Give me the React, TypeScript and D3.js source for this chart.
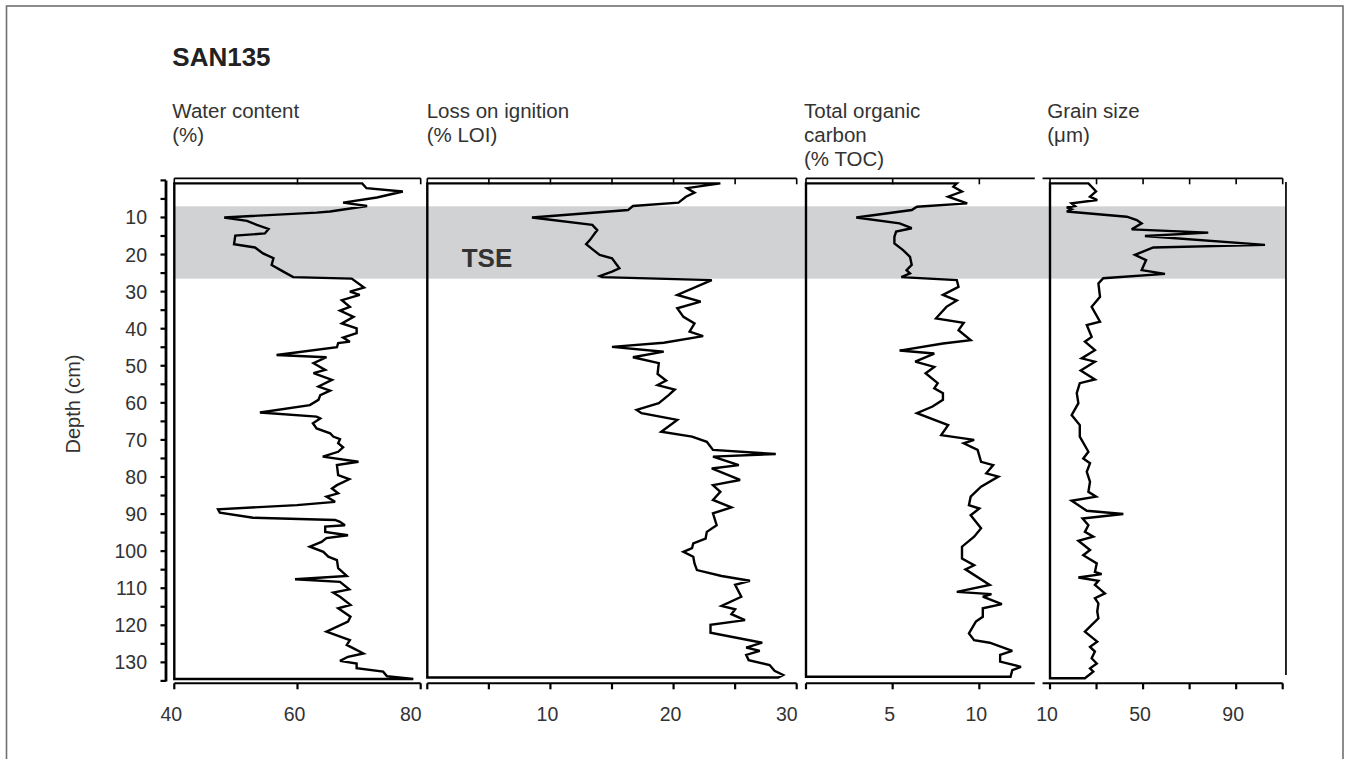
import React from "react";
import * as d3 from "d3";

// ---------- DATA ----------
const waterDepth = [0.8,2.1,3.0,4.6,6.0,6.9,8.4,8.7,10.0,10.9,12.0,13.1,14.3,14.9,17.2,18.1,19.7,21.0,22.8,24.6,26.1,26.5,28.9,30.0,30.9,32.3,34.1,35.1,36.8,38.6,39.9,41.2,42.4,43.5,43.9,45.0,47.1,47.7,49.3,51.1,52.0,53.8,55.6,56.7,57.9,59.2,60.6,62.6,63.7,64.2,65.5,66.9,68.2,69.1,69.8,70.9,72.0,73.2,74.5,75.9,76.8,79.5,80.6,82.2,83.1,84.4,85.3,86.7,87.6,88.7,89.6,91.0,91.6,92.1,93.0,93.4,94.8,95.7,96.5,97.5,98.8,100.2,101.5,102.4,104.6,106.7,107.6,108.3,110.3,111.2,112.3,114.5,115.4,117.7,119.0,121.7,124.0,125.3,127.6,128.5,129.6,130.3,131.6,132.5,133.7,134.5];
const waterValue = [70.5,71.2,77.1,72.9,67.4,71.3,65.3,63.1,48.1,51.8,53.4,55.3,54.7,49.9,49.7,53.1,54.4,56.1,55.8,57.7,59.3,68.8,70.8,68.5,70.1,67.2,68.5,66.9,69.1,67.2,69.6,69.6,67.4,68.5,66.6,66.4,56.6,64.7,62.6,64.5,62.6,65.6,63.4,65.3,63.7,63.4,62.0,53.9,63.1,63.7,62.5,63.1,65.3,65.8,66.9,66.6,67.4,66.6,64.1,69.9,66.4,66.6,68.4,66.4,65.6,66.6,64.7,66.1,59.9,47.1,47.4,52.8,66.1,66.9,67.7,64.5,64.5,68.2,64.7,63.9,62.0,64.2,65.0,66.4,66.6,68.0,59.6,66.9,68.4,65.8,66.9,68.6,66.6,68.6,68.2,64.7,68.5,68.0,70.7,68.2,66.9,69.6,69.6,73.9,74.5,78.8];

const loiDepth = [0.8,2.1,3.3,4.4,6.0,6.9,8.0,10.0,12.0,13.4,16.1,17.2,18.8,20.1,21.0,23.7,24.6,25.8,26.1,26.9,30.9,32.7,34.5,36.8,38.6,40.8,42.0,43.8,44.9,46.2,47.7,49.3,52.2,54.0,55.2,56.4,57.9,60.1,61.9,62.8,64.6,67.8,69.1,70.5,72.7,73.8,74.5,76.8,77.7,80.8,82.2,84.0,86.2,88.2,89.8,93.0,94.8,96.6,97.9,99.2,100.2,101.5,103.3,105.1,106.7,108.0,109.1,112.3,114.8,115.7,117.0,118.6,119.9,122.0,124.7,126.0,126.9,128.0,129.4,130.7,132.3,133.4,134.1];
const loiValue = [23.8,21.1,21.7,21.0,20.4,16.7,16.3,8.5,13.4,13.8,13.2,12.9,13.5,14.0,15.0,15.6,15.0,14.0,14.2,23.1,20.3,22.2,20.3,20.8,21.7,21.3,22.4,19.2,15.0,19.2,16.7,18.8,18.7,19.4,18.7,20.1,19.6,18.8,17.0,17.4,20.3,19.0,21.5,22.7,23.2,28.3,23.2,25.3,23.1,25.4,23.2,23.8,23.2,24.7,23.2,23.5,22.7,22.6,21.6,21.5,20.8,21.6,21.7,21.9,23.9,26.2,25.0,25.5,23.9,25.0,24.7,25.8,23.0,23.0,27.2,25.9,27.0,25.9,26.1,27.8,28.2,28.9,28.5];

const tocDepth = [0.8,1.7,3.0,4.4,6.2,7.1,8.0,10.0,11.6,12.9,13.8,15.2,17.0,18.8,20.6,22.8,24.2,25.1,26.1,26.9,28.7,30.9,32.4,34.1,37.2,38.4,40.4,43.1,44.0,45.9,46.7,48.9,50.3,52.0,54.7,56.1,57.4,59.2,61.0,62.8,66.0,68.7,70.0,70.9,72.7,75.9,76.8,79.0,79.9,82.6,85.3,87.6,88.5,90.3,93.8,96.1,98.8,102.0,103.8,104.9,109.1,111.0,111.6,112.3,114.3,115.4,117.7,119.0,122.2,124.0,124.7,126.9,128.0,129.8,131.2,132.1,133.9];
const tocValue = [8.7,8.5,9.0,8.2,9.3,6.4,6.1,2.9,5.4,6.1,5.2,5.1,5.1,5.6,6.0,6.1,5.8,6.0,5.5,8.7,8.8,7.9,8.7,8.1,7.5,9.1,8.8,9.5,7.9,5.4,7.4,6.3,7.4,6.9,7.6,7.4,7.9,7.9,7.3,6.4,8.2,7.8,9.7,9.1,9.9,10.1,10.8,10.4,11.1,10.1,9.5,9.4,10.0,9.5,10.1,9.7,9.0,9.0,9.7,9.2,10.6,8.7,10.7,10.2,11.3,10.2,10.2,9.8,9.4,9.7,10.6,11.9,11.2,11.2,12.4,11.9,11.8];

const grainDepth = [0.8,1.7,3.0,4.4,5.3,6.2,6.9,7.3,7.8,8.4,9.8,10.7,11.6,13.2,14.1,15.0,17.4,18.1,20.1,21.5,24.2,25.2,26.4,27.8,31.4,34.1,38.1,39.0,42.2,43.5,45.8,48.0,48.9,51.3,53.7,54.7,57.4,60.1,63.3,66.0,69.1,73.2,75.0,76.3,78.6,81.3,84.0,85.3,86.4,89.1,90.0,91.2,93.0,94.8,96.1,97.2,99.7,101.1,103.3,105.6,106.2,107.1,108.0,109.1,111.4,112.7,114.1,116.3,118.1,121.7,124.4,125.8,127.1,128.9,130.3,131.6,132.5,134.3];
const grainValue = [26.5,27.9,29.8,27.2,30.3,19.3,20.7,17.2,19.3,17.2,43.0,47.3,49.4,45.1,78.0,50.8,102.4,54.4,46.5,51.3,49.4,59.4,32.9,30.8,31.5,27.9,31.5,25.8,27.9,25.0,29.3,23.6,29.3,23.2,29.3,22.8,21.5,22.2,19.3,22.8,22.8,26.5,24.3,27.2,25.8,27.2,26.5,29.8,19.3,25.8,41.5,24.0,26.5,25.0,28.6,22.2,27.2,24.3,30.1,29.3,32.2,22.2,30.8,29.3,33.6,29.3,30.8,30.3,30.8,25.0,30.3,27.2,29.3,27.9,30.1,27.2,28.6,25.0];

const depthTicks = d3.range(0, 136, 5);
const depthLabels = d3.range(10, 131, 10);
const waterTicks = [40, 60, 80];
const waterLabels = [40, 60, 80];
const loiTicks = [0, 5, 10, 15, 20, 25, 30];
const loiLabels = [10, 20, 30];
const tocTicks = [0, 5, 10];
const tocLabels = [5, 10];
const grainTicks = [10, 30, 50, 70, 90, 110];
const grainLabels = [10, 50, 90];
const tseBand = [7, 26.5];

const FONT = "'Liberation Sans', Arial, Helvetica, sans-serif";
const TXT = "#333";

// ---------- LAYOUT ----------
const yScale = d3.scaleLinear().domain([0, 135]).range([180.4, 680.9]);
const topAxisY = 178.3;
const bottomAxisY = 683.3;

type Panel = {
  title: string[];
  titleX: number;
  x: d3.ScaleLinear<number, number>;
  axisFrom: number;
  axisTo: number;
  base: number;
  ticks: number[];
  labels: number[];
  depth: number[];
  value: number[];
  lastEnd: boolean;
  rightBorder?: number;
};

const panels: Panel[] = [
  {
    title: ["Water content", "(%)"], titleX: 172.3,
    x: d3.scaleLinear().domain([40, 80]).range([174.3, 420.7]),
    axisFrom: 40, axisTo: 80, base: 40,
    ticks: waterTicks, labels: waterLabels,
    depth: waterDepth, value: waterValue, lastEnd: true,
  },
  {
    title: ["Loss on ignition", "(% LOI)"], titleX: 426.7,
    x: d3.scaleLinear().domain([0, 30]).range([427.3, 796.7]),
    axisFrom: 0, axisTo: 30, base: 0,
    ticks: loiTicks, labels: loiLabels,
    depth: loiDepth, value: loiValue, lastEnd: true,
  },
  {
    title: ["Total organic", "carbon", "(% TOC)"], titleX: 804,
    x: d3.scaleLinear().domain([0, 13.2]).range([806, 1034.8]),
    axisFrom: 0, axisTo: 13.2, base: 0,
    ticks: tocTicks, labels: tocLabels,
    depth: tocDepth, value: tocValue, lastEnd: false,
  },
  {
    title: ["Grain size", "(\u03BCm)"], titleX: 1047.3,
    x: d3.scaleLinear().domain([10, 110]).range([1050, 1282.7]),
    axisFrom: 6.8, axisTo: 110, base: 10,
    ticks: grainTicks, labels: grainLabels,
    depth: grainDepth, value: grainValue, lastEnd: false,
    rightBorder: 111.4,
  },
];

function profilePath(p: Panel): string {
  const pts: [number, number][] = p.depth.map((d, i) => [p.value[i], d]);
  const all: [number, number][] = [
    [p.base, p.depth[0]],
    ...pts,
    [p.base, p.depth[p.depth.length - 1]],
  ];
  const line = d3
    .line<[number, number]>()
    .x((q) => p.x(q[0]))
    .y((q) => yScale(q[1]));
  return (line(all) || "") + "Z";
}

export default function App() {
  const bandX0 = panels[0].x(40) + 0.5;
  const bandX1 = panels[3].x(panels[3].rightBorder as number);
  return (
    <svg
      width={1350}
      height={759}
      style={{ position: "absolute", left: 0, top: 0, background: "#fff" }}
      fontFamily={FONT}
    >
      <rect x={0} y={0} width={1350} height={759} fill="#fff" />
      {/* outer frame */}
      <rect x={6.5} y={6} width={1336.5} height={800} fill="none" stroke="#707070" strokeWidth={1.6} />

      {/* TSE band */}
      <rect
        x={bandX0}
        y={yScale(tseBand[0])}
        width={bandX1 - bandX0}
        height={yScale(tseBand[1]) - yScale(tseBand[0])}
        fill="#d1d2d4"
      />

      {/* title */}
      <text x={172.3} y={66} fontSize={26} fontWeight="bold" fill="#222">SAN135</text>

      {/* depth axis */}
      <line x1={166} x2={166} y1={yScale(0)} y2={yScale(135) + 0.5} stroke="#000" strokeWidth={2.8} />
      {depthTicks.map((t) => (
        <line key={"dt" + t} x1={160.5} x2={166} y1={yScale(t)} y2={yScale(t)} stroke="#000" strokeWidth={2.2} />
      ))}
      {depthLabels.map((t) => (
        <text key={"dl" + t} x={147} y={yScale(t)} dy="0.36em" textAnchor="end" fontSize={19.5} fill={TXT}>
          {t}
        </text>
      ))}
      <text
        transform={`translate(80,404) rotate(-90)`}
        textAnchor="middle"
        fontSize={20}
        fill={TXT}
      >
        Depth (cm)
      </text>

      {panels.map((p, pi) => {
        const x0 = p.x(p.axisFrom);
        const x1 = p.x(p.axisTo);
        return (
          <g key={"p" + pi}>
            {p.title.map((t, i) => (
              <text key={"t" + i} x={p.titleX} y={117.5 + i * 24.3} fontSize={20.5} fill={TXT}>
                {t}
              </text>
            ))}
            {/* top axis */}
            <line x1={x0} x2={x1} y1={topAxisY} y2={topAxisY} stroke="#000" strokeWidth={1.7} />
            {p.ticks.map((t) => (
              <line key={"tt" + t} x1={p.x(t)} x2={p.x(t)} y1={topAxisY} y2={topAxisY + 6} stroke="#000" strokeWidth={1.6} />
            ))}
            {/* bottom axis */}
            <line x1={x0} x2={x1} y1={bottomAxisY} y2={bottomAxisY} stroke="#000" strokeWidth={2} />
            {p.ticks.map((t) => (
              <line key={"bt" + t} x1={p.x(t)} x2={p.x(t)} y1={bottomAxisY} y2={bottomAxisY + 6} stroke="#000" strokeWidth={2.2} />
            ))}
            {p.labels.map((t, i) => {
              const isLast = p.lastEnd && i === p.labels.length - 1;
              return (
                <text
                  key={"bl" + t}
                  x={isLast ? p.x(t) + 1 : p.x(t) - 3}
                  y={720.7}
                  textAnchor={isLast ? "end" : "middle"}
                  fontSize={19.5}
                  fill={TXT}
                >
                  {t}
                </text>
              );
            })}
            {p.rightBorder !== undefined && (
              <line
                x1={p.x(p.rightBorder)}
                x2={p.x(p.rightBorder)}
                y1={yScale(0.4)}
                y2={yScale(133.4)}
                stroke="#000"
                strokeWidth={1.7}
              />
            )}
            {/* profile */}
            <path d={profilePath(p)} fill="none" stroke="#000" strokeWidth={2.4} strokeLinejoin="miter" strokeMiterlimit={3} />
          </g>
        );
      })}

      {/* TSE label */}
      <text x={461.7} y={266.7} fontSize={26} fontWeight="bold" fill="#333">TSE</text>
    </svg>
  );
}
